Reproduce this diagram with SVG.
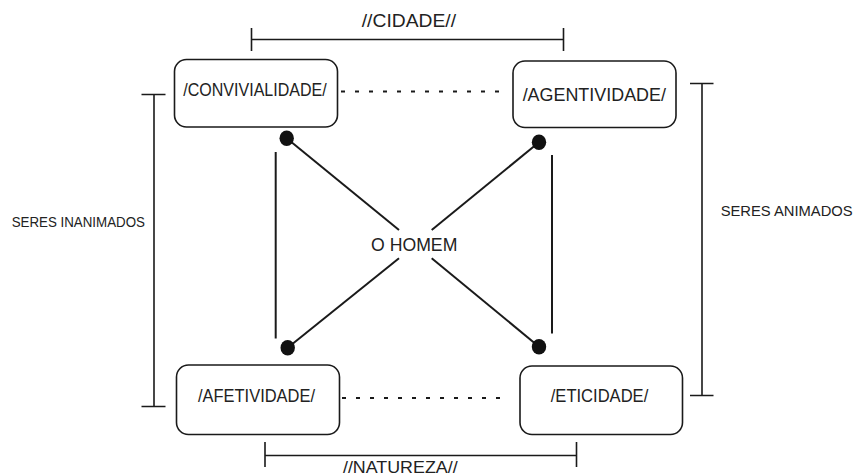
<svg xmlns="http://www.w3.org/2000/svg" width="856" height="476" viewBox="0 0 856 476">
  <style>
    .box { fill: #ffffff; stroke: #1a1a1a; stroke-width: 1.6; }
    .lbl { font-family: "Liberation Sans", Arial, sans-serif; fill: #222222; text-anchor: middle; }
    .line { stroke: #1a1a1a; stroke-width: 2; fill: none; }
    .brk { stroke: #1a1a1a; stroke-width: 1.6; fill: none; }
    .dot { stroke: #1a1a1a; stroke-width: 2; stroke-dasharray: 4 10; fill: none; }
    .end { fill: #111111; }
  </style>
  <rect width="856" height="476" fill="#ffffff"/>

  <!-- brackets -->
  <g id="brackets">
    <path class="brk" d="M251.5 28 V51 M251.5 39.5 H563.5 M563.5 28 V51"/>
    <text class="lbl" x="408.9" y="26.7" font-size="18.5" textLength="94.3" lengthAdjust="spacingAndGlyphs">//CIDADE//</text>
    <path class="brk" d="M265 442 V467 M265 455.5 H576.5 M576.5 442 V467"/>
    <text class="lbl" x="400.3" y="472.5" font-size="17" textLength="114.7" lengthAdjust="spacingAndGlyphs">//NATUREZA//</text>
    <path class="brk" d="M141.5 94.5 H165.5 M154 94.5 V406.5 M141.5 406.5 H165.5"/>
    <text class="lbl" x="78.3" y="227.3" font-size="14" textLength="133.3" lengthAdjust="spacingAndGlyphs">SERES INANIMADOS</text>
    <path class="brk" d="M690 83.5 H713.5 M702 83.5 V395.5 M690 395.5 H713.5"/>
    <text class="lbl" x="786.7" y="215.7" font-size="14" textLength="132" lengthAdjust="spacingAndGlyphs">SERES ANIMADOS</text>
  </g>

  <!-- connectors -->
  <g id="connectors">
    <line class="dot" x1="341" y1="91.5" x2="506" y2="91.5"/>
    <line class="dot" x1="342" y1="398" x2="508" y2="398"/>
    <line class="line" x1="275.7" y1="152" x2="275.7" y2="338.5"/>
    <line class="line" x1="552" y1="155" x2="552" y2="333.5"/>
    <line class="line" x1="286.7" y1="138.3" x2="399" y2="230"/>
    <line class="line" x1="539" y1="142.3" x2="431.7" y2="230"/>
    <line class="line" x1="287.7" y1="347.7" x2="399" y2="258.3"/>
    <line class="line" x1="539" y1="346.7" x2="431.7" y2="258.3"/>
    <ellipse class="end" cx="286.7" cy="138.3" rx="7.2" ry="7.8"/>
    <ellipse class="end" cx="539" cy="142.3" rx="7.2" ry="7.8"/>
    <ellipse class="end" cx="287.7" cy="347.7" rx="7.2" ry="7.8"/>
    <ellipse class="end" cx="539" cy="346.7" rx="7.2" ry="7.8"/>
  </g>

  <g id="homem">
    <text class="lbl" x="414.2" y="251" font-size="17.7" textLength="86.3" lengthAdjust="spacingAndGlyphs">O HOMEM</text>
  </g>

  <g id="convivialidade">
    <rect class="box" x="174.5" y="59.5" width="163" height="67.5" rx="12"/>
    <text class="lbl" x="255" y="95.7" font-size="18.5" textLength="143.4" lengthAdjust="spacingAndGlyphs">/CONVIVIALIDADE/</text>
  </g>
  <g id="agentividade">
    <rect class="box" x="513" y="61" width="163" height="66.5" rx="12"/>
    <text class="lbl" x="594.3" y="101" font-size="18.5" textLength="143.3" lengthAdjust="spacingAndGlyphs">/AGENTIVIDADE/</text>
  </g>
  <g id="afetividade">
    <rect class="box" x="176.5" y="365" width="163" height="69.5" rx="12"/>
    <text class="lbl" x="256.5" y="402" font-size="18" textLength="117" lengthAdjust="spacingAndGlyphs">/AFETIVIDADE/</text>
  </g>
  <g id="eticidade">
    <rect class="box" x="520" y="366" width="162.5" height="68.5" rx="12"/>
    <text class="lbl" x="599.5" y="402" font-size="18" textLength="97.5" lengthAdjust="spacingAndGlyphs">/ETICIDADE/</text>
  </g>
</svg>
